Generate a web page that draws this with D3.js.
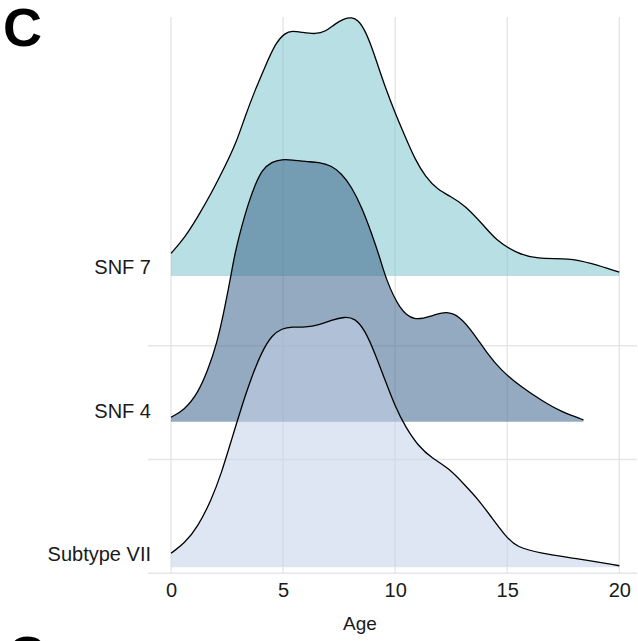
<!DOCTYPE html>
<html>
<head>
<meta charset="utf-8">
<script src="https://cdn.jsdelivr.net/npm/d3@7"></script>
<style>
  body { margin: 0; background: #fff; }
  svg { display: block; font-family: 'Liberation Sans', Arial, Helvetica, sans-serif; }
</style>
</head>
<body>
<svg id="chart"></svg>
<script>
// Data: density estimates read off the ridges, [age, density]
var groups = ['Subtype VII', 'SNF 4', 'SNF 7']
var xTicks = [0, 5, 10, 15, 20]

var snf7 = [
  [0, 0.0087], [0.6, 0.0145], [1.2, 0.0228], [1.8, 0.0318], [2.4, 0.042],
  [2.9, 0.051], [3.3, 0.0613], [3.75, 0.0715], [4.2, 0.0805], [4.65, 0.0895],
  [5.1, 0.0936], [5.4, 0.0943], [5.85, 0.0937], [6.45, 0.093], [6.9, 0.094],
  [7.3, 0.0969], [7.75, 0.0991], [8.05, 0.0995], [8.35, 0.0985], [8.65, 0.0946],
  [8.95, 0.0882], [9.25, 0.0805], [9.55, 0.0728], [10, 0.0626], [10.45, 0.0536],
  [10.9, 0.0446], [11.35, 0.0382], [11.9, 0.0331], [12.5, 0.0305], [13.1, 0.0273],
  [14, 0.019], [14.5, 0.0138], [15.4, 0.0088], [16.3, 0.0065], [17.8, 0.0069],
  [18.7, 0.005], [20, 0.0015]
]

var snf4 = [
  [0, 0.0017], [0.6, 0.0045], [1.2, 0.0109], [1.65, 0.0199], [2.05, 0.0302],
  [2.35, 0.0417], [2.65, 0.055], [2.85, 0.0648], [3.15, 0.075], [3.45, 0.084],
  [3.75, 0.091], [4.05, 0.0968], [4.5, 0.1], [4.95, 0.1009], [5.4, 0.1007],
  [6, 0.1], [6.6, 0.0998], [7.15, 0.0985], [7.6, 0.0955], [8.05, 0.0904],
  [8.5, 0.0827], [8.95, 0.0725], [9.35, 0.0622], [9.6, 0.0546], [10.2, 0.0431],
  [10.85, 0.0387], [11.6, 0.0406], [12.3, 0.0426], [12.9, 0.0404], [13.5, 0.034],
  [14.1, 0.0263], [14.7, 0.0199], [15.6, 0.0135], [16.5, 0.0083], [17.4, 0.0038],
  [18.4, 0.0007]
]

var subtype7 = [
  [0, 0.0054], [0.6, 0.0092], [1.2, 0.0156], [1.8, 0.0259], [2.25, 0.0362],
  [2.7, 0.049], [3.15, 0.0618], [3.6, 0.0733], [4.05, 0.0829], [4.5, 0.0893],
  [4.95, 0.0919], [5.4, 0.0925], [6, 0.0923], [6.6, 0.0932], [7.15, 0.0951],
  [7.75, 0.0964], [8.2, 0.0958], [8.65, 0.0913], [9.1, 0.0823], [9.55, 0.072],
  [10, 0.0618], [10.45, 0.0541], [11.05, 0.0464], [11.65, 0.0419], [12.4, 0.0381],
  [13.1, 0.0317], [13.7, 0.0262], [14.3, 0.0192], [14.9, 0.0123], [15.4, 0.0077],
  [16.5, 0.0054], [18, 0.0035], [20, 0.0006]
]

var series = [
  { name: 'SNF 7', values: snf7, color: 'rgb(126, 197, 204)' },
  { name: 'SNF 4', values: snf4, color: 'rgb(60, 100, 140)' },
  { name: 'Subtype VII', values: subtype7, color: 'rgb(197, 210, 233)' }
]

;(function () {
  var WIDTH = 638
  var HEIGHT = 641
  var GRID_COLOR = '#e6e6e6'
  var TEXT_COLOR = '#1a1a1a'

  var svg = d3.select('#chart')
    .attr('width', WIDTH)
    .attr('height', HEIGHT)

  var x = d3.scaleLinear().domain([0, 20]).range([171, 619.3])
  var yBase = d3.scalePoint().domain(groups).range([567.3, 276])
  var yLabel = d3.scalePoint().domain(groups).range([560.7, 274.3])
  var yGrid = d3.scalePoint().domain(groups).range([573.3, 345.7])
  var h = d3.scaleLinear().domain([0, 0.1]).range([0, 260])

  // grid
  var grid = svg.append('g').classed('grid', true)
  grid.selectAll('line.v')
    .data(xTicks)
    .enter().append('line')
    .attr('class', 'v')
    .attr('x1', function (d) { return x(d) })
    .attr('x2', function (d) { return x(d) })
    .attr('y1', 17)
    .attr('y2', yGrid.range()[0])
    .attr('stroke', GRID_COLOR)
    .attr('stroke-width', 1.4)
  grid.selectAll('line.h')
    .data(groups)
    .enter().append('line')
    .attr('class', 'h')
    .attr('x1', 148)
    .attr('x2', 637)
    .attr('y1', function (d) { return yGrid(d) })
    .attr('y2', function (d) { return yGrid(d) })
    .attr('stroke', GRID_COLOR)
    .attr('stroke-width', 1.4)

  // ridges
  var ridges = svg.append('g').classed('ridges', true)
  series.forEach(function (s) {
    var base = yBase(s.name)
    var area = d3.area()
      .curve(d3.curveBasis)
      .x(function (d) { return x(d[0]) })
      .y0(base)
      .y1(function (d) { return base - h(d[1]) })
    var line = d3.line()
      .curve(d3.curveBasis)
      .x(function (d) { return x(d[0]) })
      .y(function (d) { return base - h(d[1]) })
    var g = ridges.append('g').attr('data-key', s.name)
    g.append('path')
      .attr('d', area(s.values))
      .attr('fill', s.color)
      .attr('fill-opacity', 0.55)
    g.append('path')
      .attr('d', line(s.values))
      .attr('fill', 'none')
      .attr('stroke', '#000')
      .attr('stroke-width', 1.3)
  })

  // y labels
  svg.append('g').classed('y-labels', true)
    .selectAll('text')
    .data(groups)
    .enter().append('text')
    .attr('x', 151)
    .attr('y', function (d) { return yLabel(d) })
    .attr('text-anchor', 'end')
    .attr('font-size', 20)
    .attr('fill', TEXT_COLOR)
    .text(function (d) { return d })

  // x axis
  var axis = svg.append('g')
    .attr('transform', 'translate(0,' + yGrid.range()[0] + ')')
    .call(d3.axisBottom(x).tickValues(xTicks).tickSize(0).tickPadding(9.5))
  axis.select('.domain').remove()
  axis.selectAll('text')
    .attr('font-size', 20)
    .attr('font-family', null)
    .attr('fill', TEXT_COLOR)

  svg.append('text')
    .attr('x', 360)
    .attr('y', 630)
    .attr('text-anchor', 'middle')
    .attr('font-size', 19)
    .attr('fill', TEXT_COLOR)
    .text('Age')

  // panel letters
  svg.append('text')
    .attr('x', 3)
    .attr('y', 46)
    .attr('font-size', 54)
    .attr('font-weight', 'bold')
    .attr('fill', '#000')
    .text('C')
  svg.append('text')
    .attr('x', 7)
    .attr('y', 674)
    .attr('font-size', 54)
    .attr('font-weight', 'bold')
    .attr('fill', '#000')
    .text('C')
})()
</script>
</body>
</html>
